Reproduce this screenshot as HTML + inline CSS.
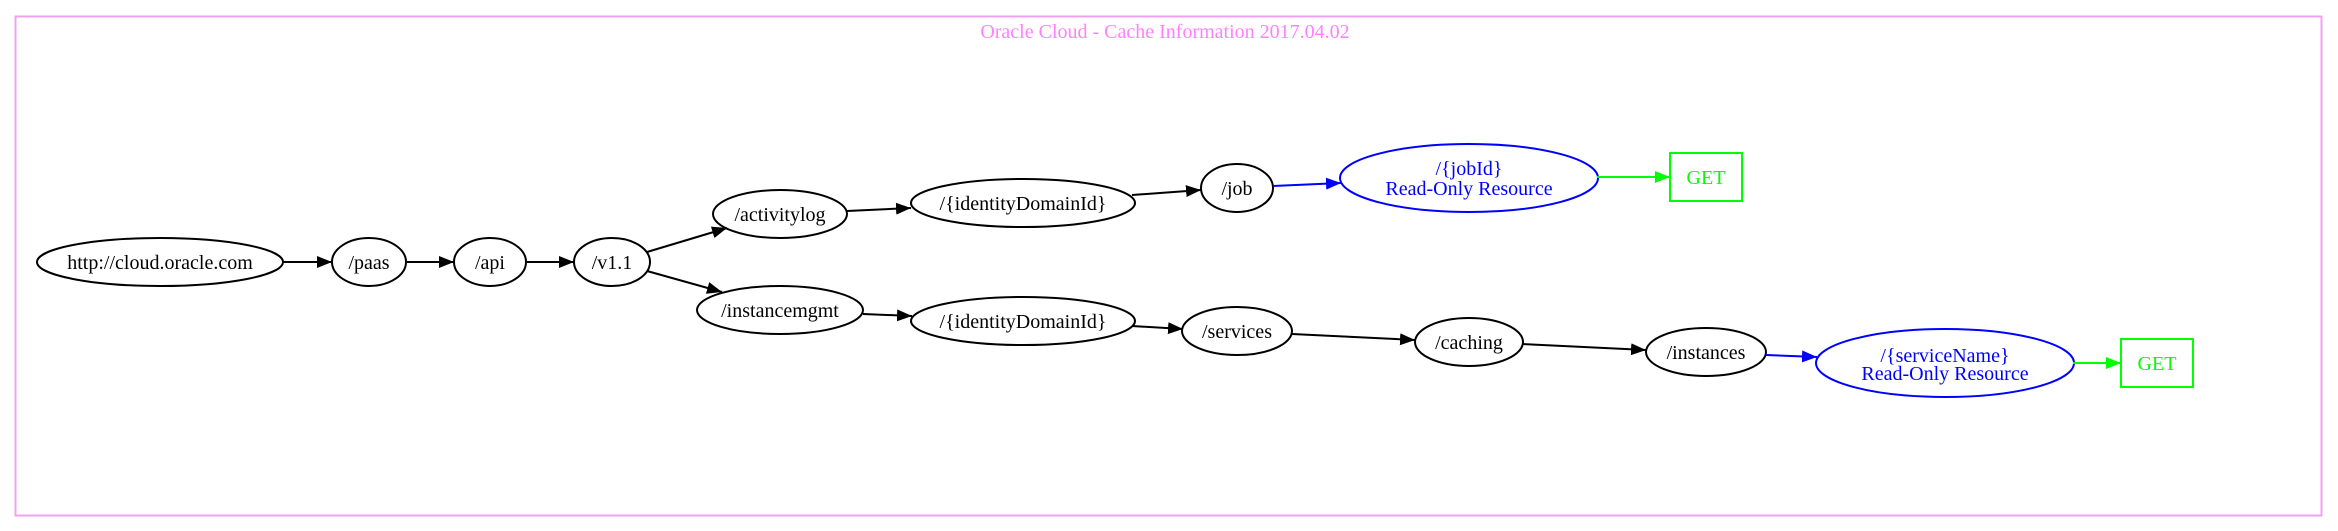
<!DOCTYPE html>
<html><head><meta charset="utf-8"><style>
html,body{margin:0;padding:0;background:#fff;}
svg{display:block;}
text{font-family:"Liberation Serif",serif;font-size:20px;}
</style></head><body>
<svg width="2338" height="531" viewBox="0 0 2338 531" xmlns="http://www.w3.org/2000/svg">
<defs>
<marker id="ak" markerUnits="userSpaceOnUse" markerWidth="16" markerHeight="12" refX="15" refY="6" orient="auto"><path d="M0,0 L15,6 L0,12 Z" fill="#000"/></marker>
<marker id="ab" markerUnits="userSpaceOnUse" markerWidth="16" markerHeight="12" refX="15" refY="6" orient="auto"><path d="M0,0 L15,6 L0,12 Z" fill="#0000ff"/></marker>
<marker id="ag" markerUnits="userSpaceOnUse" markerWidth="16" markerHeight="12" refX="15" refY="6" orient="auto"><path d="M0,0 L15,6 L0,12 Z" fill="#00ff00"/></marker>
</defs>
<rect x="15.5" y="16.5" width="2306" height="499" fill="none" stroke="#f0a0f0" stroke-width="2"/>
<text x="1165" y="38" text-anchor="middle" fill="#ff80ff" font-size="21">Oracle Cloud - Cache Information 2017.04.02</text>

<g fill="none" stroke="#000" stroke-width="2">
<ellipse cx="160" cy="262" rx="123" ry="24"/>
<ellipse cx="369" cy="262" rx="37" ry="24"/>
<ellipse cx="490" cy="262" rx="36" ry="24"/>
<ellipse cx="612" cy="262" rx="38" ry="24"/>
<ellipse cx="780" cy="214" rx="67" ry="24"/>
<ellipse cx="780" cy="310" rx="83" ry="24"/>
<ellipse cx="1023" cy="203" rx="112" ry="24"/>
<ellipse cx="1237" cy="188" rx="36" ry="24"/>
<ellipse cx="1023" cy="321" rx="112" ry="24"/>
<ellipse cx="1237" cy="331" rx="55" ry="24"/>
<ellipse cx="1469" cy="342" rx="54" ry="24"/>
<ellipse cx="1706" cy="352" rx="60" ry="24"/>
</g>
<ellipse cx="1469" cy="178" rx="129" ry="34" fill="none" stroke="#0000ff" stroke-width="2"/>
<ellipse cx="1945" cy="363" rx="129" ry="34" fill="none" stroke="#0000ff" stroke-width="2"/>
<rect x="1670" y="153" width="72" height="48" fill="none" stroke="#00ff00" stroke-width="2"/>
<rect x="2121" y="339" width="72" height="48" fill="none" stroke="#00ff00" stroke-width="2"/>

<g stroke="#000" stroke-width="2" marker-end="url(#ak)">
<line x1="283" y1="262" x2="332" y2="262"/>
<line x1="407" y1="262" x2="454" y2="262"/>
<line x1="527" y1="262" x2="574" y2="262"/>
<line x1="647" y1="252" x2="727" y2="228"/>
<line x1="647" y1="271" x2="722" y2="292"/>
<line x1="847" y1="211" x2="911" y2="208"/>
<line x1="1132" y1="195" x2="1201" y2="190"/>
<line x1="863" y1="314" x2="912" y2="316"/>
<line x1="1132" y1="326" x2="1183" y2="329"/>
<line x1="1292" y1="334" x2="1415" y2="340"/>
<line x1="1522" y1="344" x2="1646" y2="350"/>
</g>
<g stroke="#0000ff" stroke-width="2" marker-end="url(#ab)">
<line x1="1273" y1="186" x2="1341" y2="183"/>
<line x1="1766" y1="355" x2="1817" y2="357"/>
</g>
<g stroke="#00ff00" stroke-width="2" marker-end="url(#ag)">
<line x1="1597" y1="177" x2="1670" y2="177"/>
<line x1="2073" y1="363" x2="2121" y2="363"/>
</g>

<g text-anchor="middle" fill="#000">
<text x="160" y="269">http://cloud.oracle.com</text>
<text x="369" y="269">/paas</text>
<text x="490" y="269">/api</text>
<text x="612" y="269">/v1.1</text>
<text x="780" y="221">/activitylog</text>
<text x="780" y="317">/instancemgmt</text>
<text x="1023" y="210">/{identityDomainId}</text>
<text x="1237" y="195">/job</text>
<text x="1023" y="328">/{identityDomainId}</text>
<text x="1237" y="338">/services</text>
<text x="1469" y="349">/caching</text>
<text x="1706" y="359">/instances</text>
</g>
<g text-anchor="middle" fill="#0000ff">
<text x="1469" y="175">/{jobId}</text>
<text x="1469" y="195">Read-Only Resource</text>
<text x="1945" y="362">/{serviceName}</text>
<text x="1945" y="380">Read-Only Resource</text>
</g>
<g text-anchor="middle" fill="#00ff00">
<text x="1706" y="184">GET</text>
<text x="2157" y="370">GET</text>
</g>
</svg>
</body></html>
